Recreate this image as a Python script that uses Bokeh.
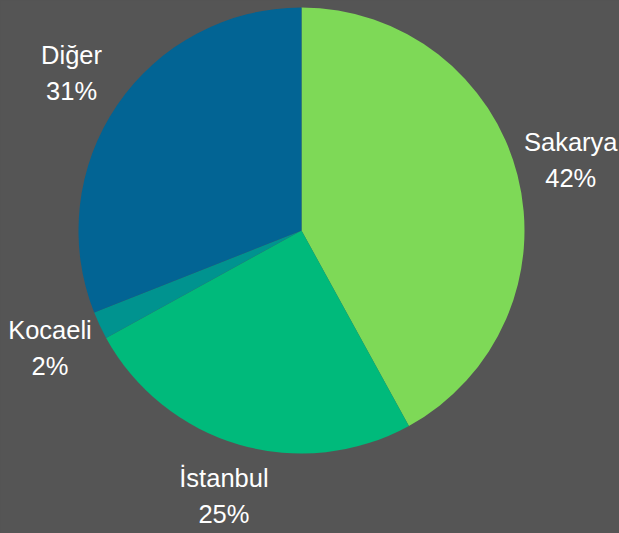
import math
from bokeh.plotting import figure
from bokeh.models import ColumnDataSource, Range1d
from bokeh.core.properties import value
from bokeh.embed import file_html
from bokeh.resources import INLINE

# Data
categories = ["Sakarya", "İstanbul", "Kocaeli", "Diğer"]
shares = [42, 25, 2, 31]
colors = ["#7ED957", "#00BA7B", "#00938F", "#026494"]

W, H = 619, 533
cx, cy = 301, H - 230
R = 223
R_LABEL = 278

total = sum(shares)
starts, ends, lx, ly, pcts = [], [], [], [], []
cum = 0.0
for s in shares:
    a0 = math.pi / 2 - 2 * math.pi * cum / total
    cum += s
    a1 = math.pi / 2 - 2 * math.pi * cum / total
    starts.append(a1)
    ends.append(a0)
    mid = (a0 + a1) / 2
    lx.append(cx + R_LABEL * math.cos(mid))
    ly.append(cy + R_LABEL * math.sin(mid))
    pcts.append(f"{round(100 * s / total)}%")

src = ColumnDataSource(dict(start=starts, end=ends, color=colors, name=categories,
                            pct=pcts, lx=lx, ly=ly,
                            ly1=[v + 19 for v in ly], ly2=[v - 17 for v in ly]))

p = figure(width=W, height=H, output_backend="svg", toolbar_location=None,
           x_range=Range1d(0, W), y_range=Range1d(0, H), min_border=0,
           background_fill_color="#555555", border_fill_color="#555555")
p.axis.visible = False
p.grid.visible = False
p.outline_line_color = None

p.wedge(x=cx, y=cy, radius=R, start_angle="start", end_angle="end",
        fill_color="color", line_color=None, source=src)

common = dict(text_align="center", text_baseline="alphabetic", text_color="#FFFFFF",
              text_font=value("Liberation Sans"), text_font_size="25.5px", source=src)
p.text(x="lx", y="ly1", text="name", **common)
p.text(x="lx", y="ly2", text="pct", **common)

html = file_html(p, INLINE)
html = html.replace("<head>", "<head><style>html,body{margin:0;padding:0;background:#555555;overflow:hidden;}</style>", 1)
open("out.html", "w").write(html)
